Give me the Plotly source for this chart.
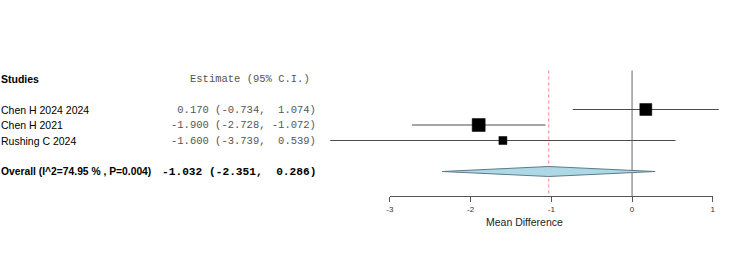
import plotly.graph_objects as go

# ---- data ----
studies = ["Chen H 2024 2024", "Chen H 2021", "Rushing C 2024"]
estimates = [0.170, -1.900, -1.600]
ci_low = [-0.734, -2.728, -3.739]
ci_high = [1.074, -1.072, 0.539]
box_sizes = [12, 13, 8]
overall_label = "Overall (I^2=74.95 % , P=0.004)"
overall_est = -1.032
overall_low = -2.351
overall_high = 0.286
tick_vals = [-3, -2, -1, 0, 1]
tick_text = ["-3", "-2", "-1", "0", "1"]
x_title = "Mean Difference"
header_left = "Studies"
header_right = "Estimate (95% C.I.)"

# ---- layout geometry (pixels) ----
W, H = 750, 266
px_per_unit = 81.5
px_at_minus3 = 389.5
row0_px, row_h = 78.5, 15.5
study_rows = [2, 3, 4]
overall_row = 6
axis_px = 196
line_top_px = 70.5
left_px = -5.5

def row_of(px):
    return (px - row0_px) / row_h

x_left = -3 - px_at_minus3 / px_per_unit
x_right = -3 + (W - px_at_minus3) / px_per_unit
y_top = row_of(0)
y_bot = row_of(H)
axis_row = row_of(axis_px)
top_row = row_of(line_top_px)

nb = "\u00a0"
def fmt(e, l, h):
    return (f"{e:6.3f} ({l:6.3f}, {h:6.3f})").replace(" ", nb)

fig = go.Figure()

# dummy trace for visible axis
fig.add_trace(go.Scatter(x=[tick_vals[0], tick_vals[-1]], y=[None, None], xaxis="x2", yaxis="y",
                         mode="markers", showlegend=False, hoverinfo="skip"))

# null line
fig.add_trace(go.Scatter(x=[0, 0], y=[top_row, axis_row], mode="lines",
                         line=dict(color="#9a9a9a", width=1.5), showlegend=False, hoverinfo="skip"))
# overall estimate dashed line
fig.add_trace(go.Scatter(x=[overall_est, overall_est], y=[top_row, axis_row], mode="lines",
                         line=dict(color="#ff8080", width=1, dash="dot"), showlegend=False, hoverinfo="skip"))

# CI lines
for r, lo, hi in zip(study_rows, ci_low, ci_high):
    fig.add_trace(go.Scatter(x=[lo, hi], y=[r, r], mode="lines",
                             line=dict(color="#4d4d4d", width=1), showlegend=False, hoverinfo="skip"))
# boxes
fig.add_trace(go.Scatter(x=estimates, y=study_rows, mode="markers", opacity=1,
                         marker=dict(symbol="square", size=box_sizes, color="#000000", opacity=1,
                                     line=dict(width=0.5, color="#000000")),
                         showlegend=False, hoverinfo="skip"))

# diamond
dh = 5 / row_h
fig.add_trace(go.Scatter(
    x=[overall_low, overall_est, overall_high, overall_est, overall_low],
    y=[overall_row, overall_row - dh, overall_row, overall_row + dh, overall_row],
    mode="lines", fill="toself", fillcolor="#add8e6",
    line=dict(color="#5f7a86", width=1), showlegend=False, hoverinfo="skip"))

ann = []
sans = "Liberation Sans, Arial, sans-serif"
mono = "Liberation Mono, Courier New, monospace"
ann.append(dict(x=left_px / W, y=0, xref="paper", yref="y", text=f"<b>{header_left}</b>",
                xanchor="left", yanchor="middle", showarrow=False,
                font=dict(family=sans, size=10.5, color="black")))
ann.append(dict(x=311 / W, y=0, xref="paper", yref="y", text=header_right,
                xanchor="right", yanchor="middle", showarrow=False,
                font=dict(family=mono, size=10.5, color="#555555")))
for r, s, e, l, h in zip(study_rows, studies, estimates, ci_low, ci_high):
    ann.append(dict(x=left_px / W, y=r, xref="paper", yref="y", text=s,
                    xanchor="left", yanchor="middle", showarrow=False,
                    font=dict(family=sans, size=10.5, color="black")))
    ann.append(dict(x=317 / W, y=r, xref="paper", yref="y", text=fmt(e, l, h),
                    xanchor="right", yanchor="middle", showarrow=False,
                    font=dict(family=mono, size=10.5, color="#555555")))
ann.append(dict(x=left_px / W, y=overall_row, xref="paper", yref="y", text=f"<b>{overall_label}</b>",
                xanchor="left", yanchor="middle", showarrow=False,
                font=dict(family=sans, size=10.3, color="black")))
ann.append(dict(x=317 / W, y=overall_row, xref="paper", yref="y",
                text=f"<b>{fmt(overall_est, overall_low, overall_high)}</b>",
                xanchor="right", yanchor="middle", showarrow=False,
                font=dict(family=mono, size=11.2, color="black")))
ann.append(dict(x=525 / W, y=(H - 222) / H, xref="paper", yref="paper", text=x_title,
                xanchor="center", yanchor="middle", showarrow=False,
                font=dict(family=sans, size=10.5, color="#222222")))

fig.update_layout(
    width=W, height=H,
    margin=dict(l=0, r=0, t=0, b=0, pad=0),
    paper_bgcolor="white", plot_bgcolor="rgba(0,0,0,0)",
    showlegend=False,
    xaxis=dict(domain=[0, 1], range=[x_left, x_right], visible=False, fixedrange=True),
    xaxis2=dict(domain=[px_at_minus3 / W, (px_at_minus3 + 4 * px_per_unit) / W],
                range=[tick_vals[0], tick_vals[-1]], anchor="free", position=(H - axis_px) / H,
                showline=True, linecolor="#555555", linewidth=1,
                ticks="outside", ticklen=5, tickcolor="#555555", tickwidth=1,
                tickvals=tick_vals, ticktext=tick_text,
                tickfont=dict(family=sans, size=8, color="#333333"),
                showgrid=False, zeroline=False, fixedrange=True),
    yaxis=dict(domain=[0, 1], range=[y_bot, y_top], visible=False, fixedrange=True),
    annotations=ann,
)

fig.write_html("out.html")
